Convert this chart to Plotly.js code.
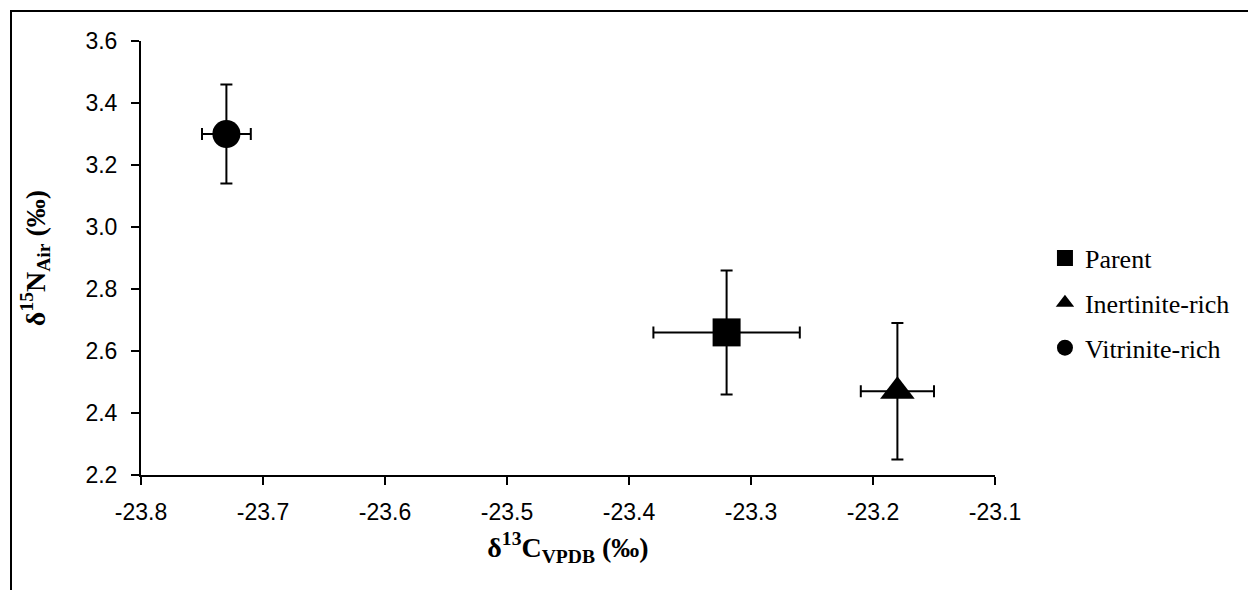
<!DOCTYPE html>
<html>
<head>
<meta charset="utf-8">
<script src="https://cdn.plot.ly/plotly-3.0.1.min.js"></script>
<style>
  html, body { margin: 0; padding: 0; background: #fff; overflow: hidden; }
  #chart { position: absolute; left: 0; top: 0; width: 1248px; height: 590px; }
  #frame { position: absolute; left: 10px; top: 10px; width: 3000px; height: 3000px;
           border-left: 2px solid #000; border-top: 2px solid #000; pointer-events: none; }
</style>
</head>
<body>
<div id="chart"></div>
<div id="frame"></div>
<script>
// Data
const seriesNames = ['Parent', 'Inertinite-rich', 'Vitrinite-rich'];
const seriesSymbols = ['square', 'triangle-up', 'circle'];
const d13C = [-23.32, -23.18, -23.73];
const d13CErr = [0.06, 0.03, 0.02];
const d15N = [2.66, 2.47, 3.30];
const d15NErr = [0.20, 0.22, 0.16];

const xTickVals = [-23.8, -23.7, -23.6, -23.5, -23.4, -23.3, -23.2, -23.1];
const xTickText = ['-23.8', '-23.7', '-23.6', '-23.5', '-23.4', '-23.3', '-23.2', '-23.1'];
const yTickVals = [2.2, 2.4, 2.6, 2.8, 3.0, 3.2, 3.4, 3.6];
const yTickText = ['2.2', '2.4', '2.6', '2.8', '3.0', '3.2', '3.4', '3.6'];

const traces = seriesNames.map((name, i) => ({
  type: 'scatter',
  mode: 'markers',
  name: name,
  legendgroup: 'g' + i,
  x: [d13C[i]],
  y: [d15N[i]],
  marker: { symbol: seriesSymbols[i], size: i === 1 ? 30 : 28, color: '#000' },
  error_x: { type: 'data', array: [d13CErr[i]], visible: true, color: '#000', thickness: 2, width: 6 },
  error_y: { type: 'data', array: [d15NErr[i]], visible: true, color: '#000', thickness: 2, width: 6 },
  cliponaxis: false
}));

const tickFont = { family: 'Liberation Sans, Arial, sans-serif', size: 23, color: '#000' };
const titleFont = { family: 'Liberation Serif, Times New Roman, serif', size: 28, color: '#000' };

const layout = {
  width: 1248,
  height: 590,
  paper_bgcolor: '#fff',
  plot_bgcolor: '#fff',
  margin: { l: 141, r: 253, t: 41, b: 115, pad: 0 },
  showlegend: true,
  legend: {
    x: 1.0585, xanchor: 'left', y: 0.396, yanchor: 'middle',
    traceorder: 'grouped', tracegroupgap: 8,
    font: { family: 'Liberation Serif, Times New Roman, serif', size: 26, color: '#000' },
    bgcolor: 'rgba(0,0,0,0)'
  },
  xaxis: {
    range: [-23.8, -23.1],
    tickvals: xTickVals, ticktext: xTickText,
    showgrid: false, zeroline: false,
    showline: true, linecolor: '#000', linewidth: 2,
    ticks: 'outside', ticklen: 8, tickwidth: 2, tickcolor: '#000',
    ticklabelstandoff: 7,
    tickfont: tickFont,
    title: { text: '<b>δ<sup>13</sup>C<sub>VPDB</sub> (‰)</b>', font: titleFont, standoff: 14 }
  },
  yaxis: {
    range: [2.2, 3.6],
    tickvals: yTickVals, ticktext: yTickText,
    showgrid: false, zeroline: false,
    showline: true, linecolor: '#000', linewidth: 2,
    ticks: 'outside', ticklen: 8, tickwidth: 2, tickcolor: '#000',
    ticklabelstandoff: 9,
    tickfont: tickFont,
    title: { text: '<b>δ<sup>15</sup>N<sub>Air</sub> (‰)</b>', font: titleFont, standoff: 32 }
  }
};

Plotly.newPlot('chart', traces, layout, { staticPlot: true, displayModeBar: false });
</script>
</body>
</html>
